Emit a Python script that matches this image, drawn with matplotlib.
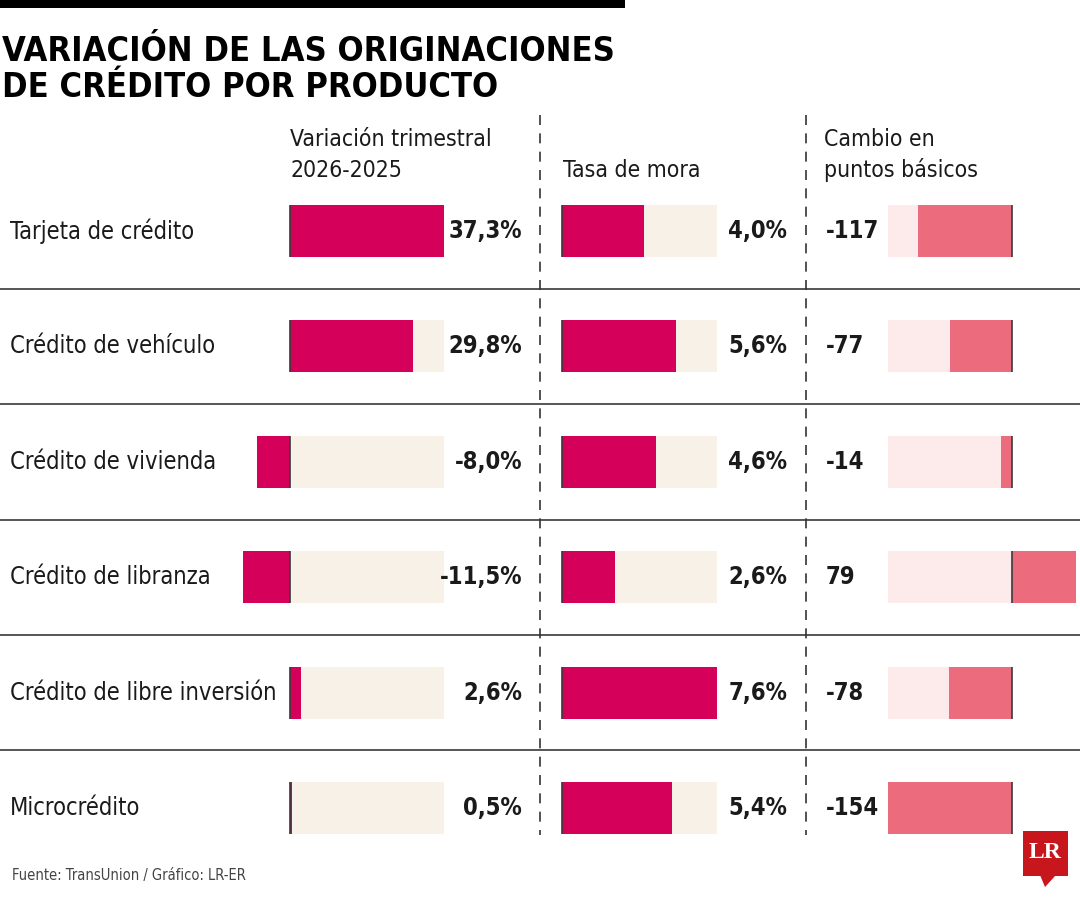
import matplotlib
matplotlib.use("Agg")
import matplotlib.pyplot as plt
import matplotlib.font_manager as fm
import matplotlib.transforms as mtransforms
from matplotlib.patches import Rectangle, Polygon
from matplotlib.lines import Line2D

# ---------------- data ----------------
products = ["Tarjeta de crédito", "Crédito de vehículo", "Crédito de vivienda",
            "Crédito de libranza", "Crédito de libre inversión", "Microcrédito"]
variacion = [37.3, 29.8, -8.0, -11.5, 2.6, 0.5]          # % variación trimestral
tasa_mora = [4.0, 5.6, 4.6, 2.6, 7.6, 5.4]               # %
cambio_pb = [-117, -77, -14, 79, -78, -154]              # puntos básicos

title_lines = ["VARIACIÓN DE LAS ORIGINACIONES", "DE CRÉDITO POR PRODUCTO"]
header_var = ["Variación trimestral", "2026-2025"]
header_mora = "Tasa de mora"
header_pb = ["Cambio en", "puntos básicos"]
source = "Fuente: TransUnion / Gráfico: LR-ER"

# ---------------- fonts ----------------
names = {f.name for f in fm.fontManager.ttflist}
condensed_dejavu = any(f.name == "DejaVu Sans" and "ondensed" in str(f.stretch) for f in fm.fontManager.ttflist)
if "Liberation Sans Narrow" in names:
    FONT = dict(family="Liberation Sans Narrow")
elif condensed_dejavu:
    FONT = dict(family="DejaVu Sans", stretch="condensed")
else:
    FONT = dict(family="Liberation Sans")

MAGENTA = "#D4005A"
BEIGE = "#F7F1E8"
PINK = "#EC6B7D"
LIGHTPINK = "#FCEBEA"
DARK = "#1a1a1a"
ZERO = "#3a3a3a"

LABEL_FS = 17
VALUE_FS = 17
HEAD_FS = 16.5

W, H = 1080, 900
fig = plt.figure(figsize=(W / 100, H / 100), dpi=100)
fig.patch.set_facecolor("white")

def fx(px):
    return px / W

def fy(py):
    return 1 - py / H

n = len(products)
rows = list(range(n))
ROW_TOP, ROW_BOT = 173.3, 865.7   # pixel extent of the 6 rows
BAR_H = 0.45

def col_axes(x0, x1, zero_px, px_per_unit):
    ax = fig.add_axes([fx(x0), fy(ROW_BOT), fx(x1) - fx(x0), (ROW_BOT - ROW_TOP) / H])
    ax.set_xlim((x0 - zero_px) / px_per_unit, (x1 - zero_px) / px_per_unit)
    ax.set_ylim(n - 0.5, -0.5)
    ax.axis("off")
    ax.patch.set_alpha(0)
    return ax

def zero_lines(ax):
    ax.vlines([0] * n, [r - BAR_H / 2 for r in rows], [r + BAR_H / 2 for r in rows], color=ZERO, lw=1.2)

# background axes for separators
bg = fig.add_axes([0, fy(ROW_BOT), 1, (ROW_BOT - ROW_TOP) / H])
bg.set_xlim(0, W)
bg.set_ylim(n - 0.5, -0.5)
bg.axis("off")
for i in range(n - 1):
    bg.axhline(i + 0.5, color="#555555", lw=1.4)

# column 1: variación trimestral
ax1 = col_axes(230, 535, 290, 154 / max(variacion))
ax1.barh(rows, [max(variacion)] * n, height=BAR_H, color=BEIGE, lw=0)
ax1.barh(rows, variacion, height=BAR_H, color=MAGENTA, lw=0)
zero_lines(ax1)

# column 2: tasa de mora
ax2 = col_axes(550, 800, 562, 155 / max(tasa_mora))
ax2.barh(rows, [max(tasa_mora)] * n, height=BAR_H, color=BEIGE, lw=0)
ax2.barh(rows, tasa_mora, height=BAR_H, color=MAGENTA, lw=0)
zero_lines(ax2)

# column 3: cambio en puntos básicos
ax3 = col_axes(870, 1080, 1012, 124 / abs(min(cambio_pb)))
ax3.barh(rows, [min(cambio_pb)] * n, height=BAR_H, color=LIGHTPINK, lw=0)
ax3.barh(rows, cambio_pb, height=BAR_H, color=PINK, lw=0)
zero_lines(ax3)

def fmt_pct(v):
    return f"{v:.1f}%".replace(".", ",")

tr = mtransforms.blended_transform_factory(fig.transFigure, ax1.transData)
for i in rows:
    fig.text(fx(10), i, products[i], transform=tr, va="center", ha="left",
             fontsize=LABEL_FS, color=DARK, **FONT)
    fig.text(fx(522), i, fmt_pct(variacion[i]), transform=tr, va="center", ha="right",
             fontsize=VALUE_FS, fontweight="bold", color=DARK, **FONT)
    fig.text(fx(787), i, fmt_pct(tasa_mora[i]), transform=tr, va="center", ha="right",
             fontsize=VALUE_FS, fontweight="bold", color=DARK, **FONT)
    fig.text(fx(826), i, f"{cambio_pb[i]}", transform=tr, va="center", ha="left",
             fontsize=VALUE_FS, fontweight="bold", color=DARK, **FONT)

# headers
fig.text(fx(290), fy(146), header_var[0], fontsize=HEAD_FS, color=DARK, va="baseline", **FONT)
fig.text(fx(290), fy(177), header_var[1], fontsize=HEAD_FS, color=DARK, va="baseline", **FONT)
fig.text(fx(563), fy(177), header_mora, fontsize=HEAD_FS, color=DARK, va="baseline", **FONT)
fig.text(fx(824), fy(146), header_pb[0], fontsize=HEAD_FS, color=DARK, va="baseline", **FONT)
fig.text(fx(824), fy(177), header_pb[1], fontsize=HEAD_FS, color=DARK, va="baseline", **FONT)

# title
fig.text(fx(2), fy(61), title_lines[0], fontsize=24.7, fontweight="bold", color="black", va="baseline", **FONT)
fig.text(fx(2), fy(97), title_lines[1], fontsize=24.7, fontweight="bold", color="black", va="baseline", **FONT)

# top black bar
fig.add_artist(Rectangle((0, fy(8)), fx(625), 8 / H, transform=fig.transFigure, color="black", lw=0))

# dashed separators
for xpx in (540, 806):
    fig.add_artist(Line2D([fx(xpx), fx(xpx)], [fy(115), fy(835)], transform=fig.transFigure,
                          color="#333333", lw=1.2, ls=(0, (6, 5))))

# source
fig.text(fx(12), fy(880), source, fontsize=10.5, color="#444444", va="baseline", **FONT)

# LR logo
red = "#C8161D"
fig.add_artist(Rectangle((fx(1023), fy(876)), fx(45), 45 / H, transform=fig.transFigure, color=red, lw=0))
fig.add_artist(Polygon([(fx(1040), fy(875)), (fx(1056), fy(875)), (fx(1045), fy(887))],
                       closed=True, transform=fig.transFigure, color=red, lw=0))
fig.text(fx(1045.5), fy(853), "LR", fontsize=17, fontweight="bold", color="white",
         family="Liberation Serif", ha="center", va="center")

fig.savefig("out.png", dpi=100, facecolor="white")
